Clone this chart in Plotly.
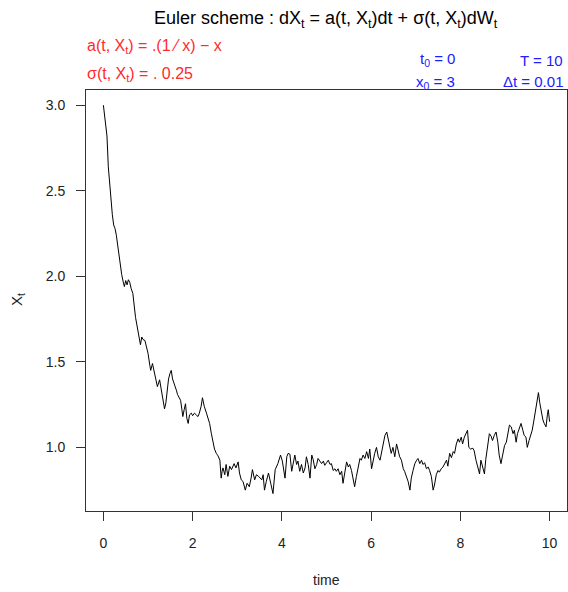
import plotly.graph_objects as go

# ---- data (time, X_t) ----
time = [0.00, 0.03, 0.06, 0.08, 0.11, 0.14, 0.165, 0.20, 0.23, 0.26, 0.29, 0.33, 0.37, 0.41, 0.45, 0.47,
        0.50, 0.53, 0.56, 0.59, 0.62, 0.66, 0.72, 0.78, 0.83, 0.86, 0.89, 0.93, 0.97, 1.00, 1.04, 1.06,
        1.10, 1.13, 1.16, 1.21, 1.26, 1.31, 1.34, 1.37, 1.40, 1.43, 1.46, 1.49, 1.52, 1.55, 1.58, 1.61,
        1.64, 1.66, 1.70, 1.73, 1.76, 1.78, 1.81, 1.84, 1.87, 1.90, 1.93, 1.97, 2.00, 2.04, 2.08, 2.12,
        2.15, 2.19, 2.22, 2.26, 2.31, 2.35, 2.38, 2.42, 2.46, 2.49, 2.53, 2.57, 2.61, 2.64, 2.66, 2.68,
        2.72, 2.75, 2.79, 2.83, 2.87, 2.90, 2.93, 2.97, 3.02, 3.05, 3.09, 3.13, 3.18, 3.22, 3.27, 3.31,
        3.34, 3.39, 3.43, 3.48, 3.52, 3.55, 3.58, 3.61, 3.65, 3.70, 3.75, 3.80, 3.85, 3.91, 3.97, 4.01,
        4.07, 4.11, 4.14, 4.18, 4.22, 4.25, 4.29, 4.33, 4.36, 4.40, 4.44, 4.48, 4.52, 4.55, 4.59, 4.63,
        4.67, 4.70, 4.74, 4.78, 4.81, 4.85, 4.89, 4.93, 4.96, 5.00, 5.04, 5.08, 5.11, 5.15, 5.19, 5.22,
        5.26, 5.30, 5.34, 5.37, 5.41, 5.45, 5.49, 5.52, 5.56, 5.60, 5.63, 5.67, 5.71, 5.75, 5.78, 5.82,
        5.86, 5.90, 5.94, 5.97, 6.01, 6.04, 6.08, 6.12, 6.16, 6.20, 6.24, 6.27, 6.31, 6.35, 6.38, 6.41,
        6.45, 6.49, 6.53, 6.57, 6.60, 6.64, 6.68, 6.72, 6.75, 6.79, 6.83, 6.87, 6.90, 6.94, 6.98, 7.02,
        7.05, 7.09, 7.13, 7.16, 7.20, 7.24, 7.28, 7.31, 7.35, 7.39, 7.42, 7.46, 7.50, 7.53, 7.57, 7.61,
        7.65, 7.69, 7.72, 7.76, 7.80, 7.84, 7.87, 7.91, 7.95, 7.98, 8.02, 8.05, 8.09, 8.13, 8.16, 8.19,
        8.23, 8.28, 8.31, 8.35, 8.39, 8.43, 8.46, 8.50, 8.54, 8.57, 8.61, 8.65, 8.69, 8.72, 8.76, 8.80,
        8.84, 8.87, 8.91, 8.95, 8.99, 9.03, 9.06, 9.10, 9.14, 9.18, 9.21, 9.25, 9.28, 9.32, 9.36, 9.40,
        9.43, 9.47, 9.50, 9.54, 9.58, 9.61, 9.65, 9.69, 9.72, 9.75, 9.78, 9.82, 9.85, 9.88, 9.92, 9.95,
        9.97, 10.00]
X_t = [3.00, 2.93, 2.845, 2.82, 2.64, 2.54, 2.505, 2.36, 2.30, 2.28, 2.24, 2.16, 2.09, 2.01, 1.96, 1.94,
       1.975, 1.95, 1.98, 1.965, 1.93, 1.90, 1.76, 1.67, 1.60, 1.645, 1.63, 1.625, 1.58, 1.55, 1.48, 1.45,
       1.49, 1.45, 1.41, 1.355, 1.395, 1.315, 1.27, 1.225, 1.26, 1.33, 1.40, 1.43, 1.45, 1.40, 1.38, 1.355,
       1.33, 1.31, 1.29, 1.275, 1.22, 1.18, 1.22, 1.255, 1.17, 1.14, 1.19, 1.20, 1.185, 1.20, 1.19, 1.18,
       1.20, 1.24, 1.29, 1.24, 1.20, 1.16, 1.14, 1.08, 1.02, 0.99, 0.965, 0.95, 0.925, 0.82, 0.86, 0.88,
       0.84, 0.90, 0.83, 0.89, 0.87, 0.89, 0.905, 0.88, 0.915, 0.85, 0.81, 0.80, 0.75, 0.79, 0.77, 0.82,
       0.87, 0.81, 0.84, 0.83, 0.82, 0.81, 0.84, 0.75, 0.80, 0.85, 0.79, 0.73, 0.87, 0.905, 0.955, 0.92,
       0.82, 0.945, 0.965, 0.96, 0.86, 0.90, 0.955, 0.90, 0.92, 0.86, 0.90, 0.85, 0.88, 0.945, 0.90, 0.82,
       0.955, 0.93, 0.875, 0.90, 0.935, 0.92, 0.905, 0.92, 0.895, 0.91, 0.925, 0.90, 0.905, 0.865, 0.875, 0.86,
       0.875, 0.84, 0.86, 0.79, 0.86, 0.915, 0.885, 0.90, 0.865, 0.81, 0.77, 0.83, 0.895, 0.935, 0.925, 0.955,
       0.935, 0.975, 0.935, 0.99, 0.875, 0.92, 0.965, 1.00, 0.945, 0.925, 0.985, 1.02, 1.07, 1.09, 1.05, 1.00,
       0.965, 1.00, 0.945, 1.02, 0.99, 0.945, 0.925, 0.875, 0.86, 0.83, 0.80, 0.75, 0.82, 0.865, 0.905, 0.925,
       0.935, 0.905, 0.925, 0.90, 0.91, 0.875, 0.885, 0.865, 0.83, 0.75, 0.78, 0.84, 0.865, 0.855, 0.875, 0.885,
       0.905, 0.925, 0.89, 0.965, 0.94, 0.975, 0.965, 1.02, 1.05, 1.03, 1.06, 1.02, 1.06, 1.08, 1.10, 1.00,
       0.99, 0.995, 0.98, 0.925, 0.875, 0.845, 0.925, 0.875, 0.845, 0.93, 1.00, 1.08, 1.065, 1.04, 1.07, 1.09,
       1.03, 0.955, 0.905, 0.97, 1.01, 1.03, 1.07, 1.13, 1.12, 1.08, 1.10, 1.03, 1.08, 1.11, 1.14, 1.10,
       1.07, 1.06, 1.00, 1.04, 1.07, 1.10, 1.16, 1.22, 1.27, 1.32, 1.26, 1.20, 1.16, 1.14, 1.12, 1.19,
       1.22, 1.15]

x_ticks = [0, 2, 4, 6, 8, 10]
y_ticks = [1.0, 1.5, 2.0, 2.5, 3.0]
y_ticklabels = ["1.0", "1.5", "2.0", "2.5", "3.0"]

FONT = "Liberation Sans, Arial, sans-serif"
W, H = 568, 592
L, R, T, B = 86, 1, 90, 81
pw, ph = W - L - R, H - T - B


def px(x):
    return (x - L) / pw


def py(y):
    return (H - B - y) / ph


fig = go.Figure()
fig.add_trace(go.Scatter(x=time, y=X_t, mode="lines",
                         line=dict(color="black", width=1), showlegend=False,
                         hoverinfo="skip"))

axis_common = dict(showgrid=False, zeroline=False, showline=True, mirror=True,
                   linecolor="#333333", linewidth=1, ticks="outside", ticklen=9,
                   tickcolor="#333333", tickwidth=1,
                   tickfont=dict(family=FONT, size=14, color="#222222"))

fig.update_layout(
    width=W, height=H,
    margin=dict(l=L, r=R, t=T, b=B, pad=0),
    paper_bgcolor="white", plot_bgcolor="white",
    xaxis=dict(range=[-0.39, 10.39], tickvals=x_ticks, ticklabelstandoff=10, **axis_common),
    yaxis=dict(range=[0.628, 3.089], tickvals=y_ticks, ticktext=y_ticklabels,
               ticklabelstandoff=8, **axis_common),
)

ann = []
# title
ann.append(dict(text="Euler scheme : dX<sub>t</sub> = a(t, X<sub>t</sub>)dt + σ(t, X<sub>t</sub>)dW<sub>t</sub>",
                x=px(326), y=py(20), xanchor="center", yanchor="middle",
                font=dict(family=FONT, size=18, color="black")))
# red drift / diffusion
red = dict(family=FONT, size=16, color="#ff2a2a")
ann.append(dict(text="a(t, X<sub>t</sub>) = .(1 ⁄ x) − x", x=px(85), y=py(46),
                xanchor="left", yanchor="middle", font=red))
ann.append(dict(text="σ(t, X<sub>t</sub>) = . 0.25", x=px(85), y=py(74),
                xanchor="left", yanchor="middle", font=red))
# blue parameters
blue = dict(family=FONT, size=15, color="#2020ff")
ann.append(dict(text="t<sub>0</sub> = 0", x=px(457), y=py(71), xanchor="right", yanchor="bottom", font=blue))
ann.append(dict(text="x<sub>0</sub> = 3", x=px(457), y=py(71), xanchor="right", yanchor="top", font=blue))
ann.append(dict(text="T = 10", x=px(565), y=py(71), xanchor="right", yanchor="bottom", font=blue))
ann.append(dict(text="Δt = 0.01", x=px(565), y=py(71), xanchor="right", yanchor="top", font=blue))
# axis titles
ann.append(dict(text="time", x=px(326), y=py(580), xanchor="center", yanchor="middle",
                font=dict(family=FONT, size=14, color="#222222")))
ann.append(dict(text="X<sub>t</sub>", x=px(17), y=py(300), xanchor="center", yanchor="middle",
                textangle=-90, font=dict(family=FONT, size=15, color="#222222")))

for a in ann:
    a.update(xref="paper", yref="paper", showarrow=False)
fig.update_layout(annotations=ann)

fig.write_html("out.html")
